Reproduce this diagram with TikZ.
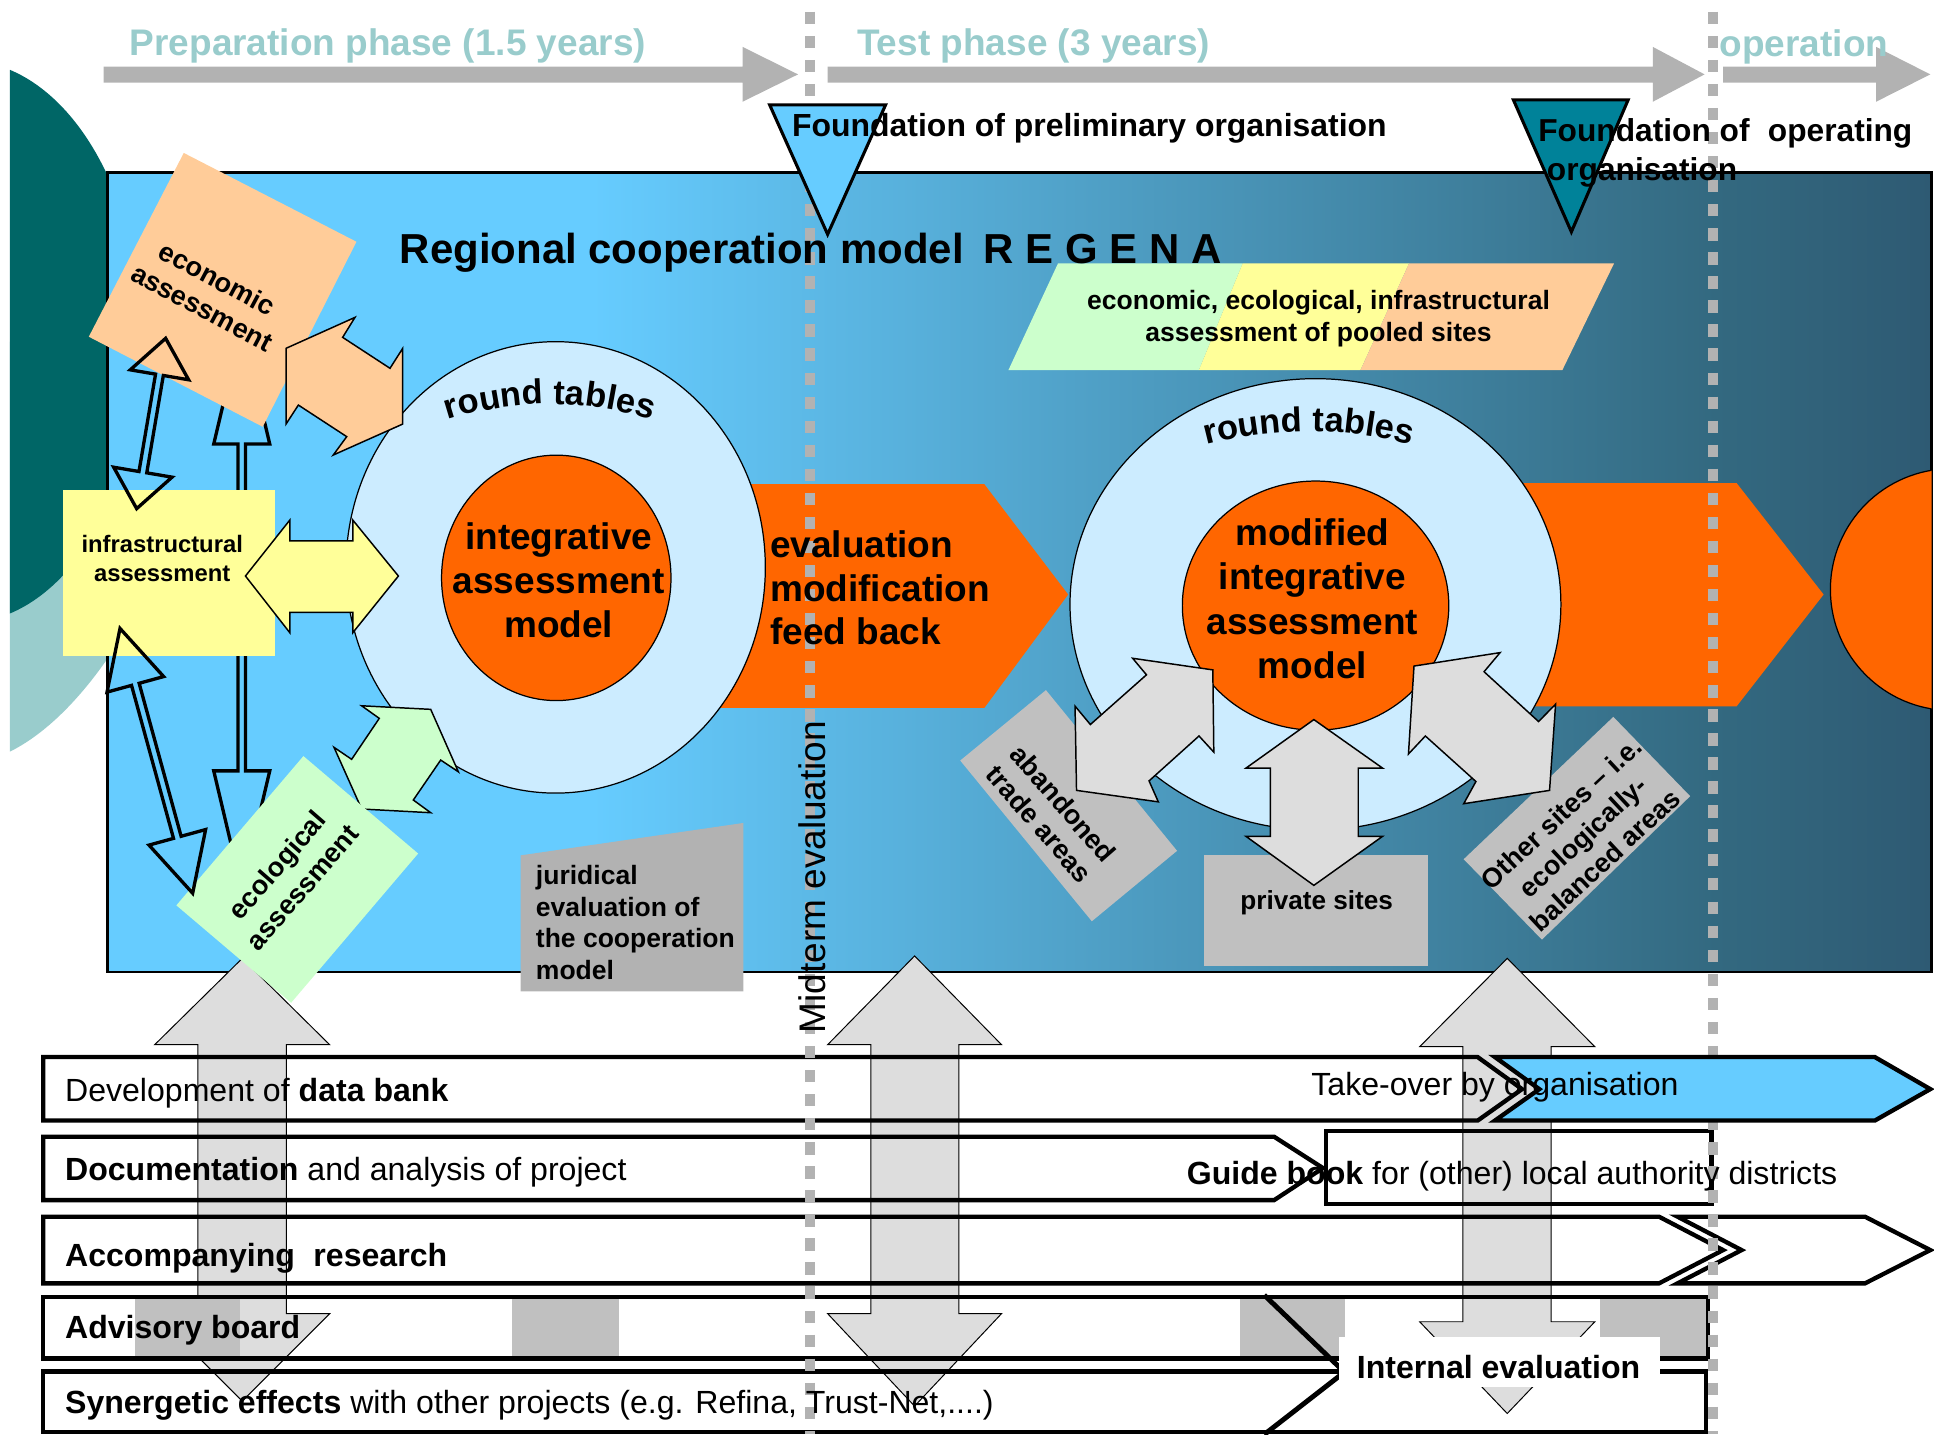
\documentclass[tikz,border=0pt]{standalone}
\usepackage{fontspec}
\setmainfont{Liberation Sans}
\usetikzlibrary{decorations.text}
\definecolor{skyb}{HTML}{66CCFF}
\definecolor{lightc}{HTML}{CCECFF}
\definecolor{orng}{HTML}{FF6600}
\definecolor{peach}{HTML}{FFCC99}
\definecolor{yel}{HTML}{FFFF99}
\definecolor{grn}{HTML}{CCFFCC}
\definecolor{gbox}{HTML}{C0C0C0}
\definecolor{gjur}{HTML}{B2B2B2}
\definecolor{garr}{HTML}{DDDDDD}
\definecolor{tealtri}{HTML}{008299}
\definecolor{dteal}{HTML}{006666}
\definecolor{lteal}{HTML}{99CCCC}
\definecolor{tarr}{HTML}{B2B2B2}
\definecolor{bmid}{HTML}{336980}
\definecolor{bdark}{HTML}{2E5A73}
\newcommand\fsz[2]{\fontsize{#1}{#2}\selectfont}
\newcommand\hollowarrow[7]{%
 \pgfmathsetmacro\HAdx{#3-#1}%
 \pgfmathsetmacro\HAdy{#4-#2}%
 \pgfmathsetmacro\HAang{atan2(-\HAdy,\HAdx)}%
 \pgfmathsetmacro\HAlen{veclen(\HAdx,\HAdy)}%
 \pgfmathsetmacro\HAb{\HAlen-#5}%
 \begin{scope}[shift={(#1,#2)},rotate=\HAang]
 \draw[hollowarr] (0,0) -- (#5,#6) -- (#5,#7) -- (\HAb,#7) -- (\HAb,#6) -- (\HAlen,0) -- (\HAb,-#6) -- (\HAb,-#7) -- (#5,-#7) -- (#5,-#6) -- cycle;
 \end{scope}}
\tikzset{
 bar/.style={draw=black, line width=3.5pt},
 garrow/.style={fill=garr, draw=black, line width=0.8pt},
 blockarr/.style={draw=black, line width=1.2pt},
 hollowarr/.style={draw=black, line width=2.7pt},
 dotline/.style={draw=tarr, line width=8pt, dash pattern=on 10pt off 9.5pt},
 lbl/.style={inner sep=0pt, anchor=base},
 lblw/.style={inner sep=0pt, anchor=base west},
 rotlbl/.style={inner sep=0pt, align=center},
 tri/.style={draw=black, line width=2.5pt},
}
\begin{document}
\begin{tikzpicture}[x=1pt,y=-1pt,line join=miter]
\useasboundingbox (0,0) rectangle (1568,1163);
% teal background shapes
\begin{scope}
\clip (8,0) rectangle (87,1163);
\fill[lteal] (8,277) -- (8,609.4) .. controls (35,596) and (62,570) .. (86.5,534.9) -- (100,534.9) -- (100,277) -- cycle;
\fill[dteal] (-29,277) ellipse [x radius=144, y radius=228];
\end{scope}
% phase arrows
\fill[tarr] (84,54) -- (602,54) -- (602,38) -- (647,60.3) -- (602,82.5) -- (602,67) -- (84,67) -- cycle;
\fill[tarr] (671,54) -- (1340,54) -- (1340,38) -- (1382,60.3) -- (1340,82.5) -- (1340,67) -- (671,67) -- cycle;
\fill[tarr] (1397,54) -- (1521,54) -- (1521,38) -- (1565,60.3) -- (1521,82.5) -- (1521,67) -- (1397,67) -- cycle;
% main blue panel
\fill[skyb] (87,140) rectangle (481,788);
\shade[left color=skyb, right color=bmid] (480,140) rectangle (1391,788);
\shade[left color=bmid, right color=bdark] (1390,140) rectangle (1566,788);
\draw[line width=2pt] (87,140) rectangle (1566,788);
% orange arrows and circle
\fill[orng] (560,392.5) -- (798,392.5) -- (866,482) -- (798,574) -- (560,574) -- cycle;
\fill[orng] (1180,391.7) -- (1408,391.7) -- (1478.5,482) -- (1408,572.6) -- (1180,572.6) -- cycle;
\begin{scope}
\clip (87,140) rectangle (1566,788);
\draw[fill=orng, line width=1pt] (1582,478) ellipse [x radius=98, y radius=98];
\end{scope}
% round tables circles
\draw[fill=lightc, line width=1pt] (450.5,460) ellipse [x radius=170, y radius=183];
\draw[fill=orng, line width=1pt] (451,468.5) ellipse [x radius=93, y radius=99.5];
\draw[fill=lightc, line width=1pt] (1066.5,490) ellipse [x radius=199, y radius=183];
\draw[fill=orng, line width=1pt] (1066.6,491) ellipse [x radius=108, y radius=101];
% left assessment boxes and hollow arrows
\hollowarrow{196}{264}{196}{721}{96}{22.7}{3.1}
\fill[yel] (51,397) rectangle (223,532);
\fill[peach] (149,124) -- (289,196) -- (213,346) -- (72,273) -- cycle;
\hollowarrow{134.3}{274.3}{110.8}{412.4}{30}{24}{3.2}
% block double arrows to round table 1
\draw[blockarr, fill=peach] (231.9,282.4) -- (287.8,257.3) -- (277.8,273.5) -- (316.2,298.6) -- (326.5,282.4) -- (326.5,343.8) -- (270.2,368.9) -- (281.1,354) -- (241.9,328.4) -- (231.9,343.8) -- cycle;
\draw[blockarr, fill=yel] (199,467) -- (235,421.6) -- (235,438.5) -- (286,438.5) -- (286,421.6) -- (323,467) -- (286,513) -- (286,496.5) -- (235,496.5) -- (235,513) -- cycle;
\draw[blockarr, fill=grn] (293.2,572.2) -- (349.2,575.1) -- (371.6,625.7) -- (357.3,616.2) -- (335.1,648.6) -- (349.2,658.9) -- (293.2,655.9) -- (270.8,605.9) -- (285.1,615.6) -- (307.5,582.4) -- cycle;
% pooled sites parallelogram
\fill[grn] (857.8,213.5) -- (1007.5,213.5) -- (972,300) -- (817.6,300) -- cycle;
\fill[yel] (1007.5,213.5) -- (1142.4,213.5) -- (1103,300) -- (972,300) -- cycle;
\fill[peach] (1142.4,213.5) -- (1308.6,213.5) -- (1266.7,300) -- (1103,300) -- cycle;
% gray boxes
\fill[gjur] (422,693.5) -- (602.7,667.2) -- (602.7,803.7) -- (422,803.7) -- cycle;
\fill[gbox] (848,559.5) -- (954.3,689.8) -- (885.2,746.9) -- (778.5,616.6) -- cycle;
\fill[gbox] (976,693.5) rectangle (1158,783.5);
\fill[gbox] (1308,581.2) -- (1370.3,645.5) -- (1250.1,761.8) -- (1186.7,696.6) -- cycle;
% gray block arrows round table 2
\draw[blockarr, fill=garr] (918.3,533.7) -- (983.3,543.1) -- (984.1,609.8) -- (972.1,596.7) -- (931.6,633.1) -- (939.1,650.1) -- (872.8,640.8) -- (871.6,572.5) -- (884,587.4) -- (929.5,547.1) -- cycle;
\draw[blockarr, fill=garr] (1146.4,540) -- (1216.2,529.1) -- (1203.2,544.6) -- (1247.4,585) -- (1261.2,570.9) -- (1256.3,640.8) -- (1186.7,651.6) -- (1196.6,633.6) -- (1155.6,596.7) -- (1141.9,611.3) -- cycle;
\draw[blockarr, fill=garr] (1065.2,583.4) -- (1121,622.8) -- (1101.2,622.8) -- (1101.2,678) -- (1121,678) -- (1065.2,717.8) -- (1010.1,678) -- (1030,678) -- (1030,622.8) -- (1010.1,622.8) -- cycle;
% big vertical gray arrows
\draw[garrow] (196.4,777) -- (267.3,847) -- (232.2,847) -- (232.2,1065) -- (267.3,1065) -- (196.4,1136) -- (125.4,1065) -- (160.5,1065) -- (160.5,847) -- (125.4,847) -- cycle;
\draw[garrow] (741.5,775) -- (812,847) -- (777.4,847) -- (777.4,1065) -- (812,1065) -- (741.5,1140) -- (671,1065) -- (706,1065) -- (706,847) -- (671,847) -- cycle;
\draw[garrow] (1222,777) -- (1293,848.6) -- (1257.5,848.6) -- (1257.5,1071.6) -- (1293,1071.6) -- (1222,1146) -- (1151,1071.6) -- (1186,1071.6) -- (1186,848.6) -- (1151,848.6) -- cycle;
% ecological box and last hollow arrow
\fill[grn] (246,613) -- (339,692) -- (236,813) -- (143,734) -- cycle;
\hollowarrow{97.3}{509.5}{156.2}{724.2}{47}{23.8}{3.2}
% lower bars
\fill[gbox] (109.4,1051.3) rectangle (194.6,1101.3);
\fill[gbox] (415.3,1051.3) rectangle (501.5,1101.3);
\fill[gbox] (1005,1051.3) rectangle (1090.5,1101.3);
\fill[gbox] (1297,1051.3) rectangle (1385,1101.3);
\draw[bar] (35,857) -- (1198,857) -- (1234,883) -- (1198,908.5) -- (35,908.5) -- cycle;
\draw[bar] (35,921.6) -- (1033,921.6) -- (1072.6,947) -- (1033,973) -- (35,973) -- cycle;
\draw[bar] (1075,917) rectangle (1387.6,976);
\draw[bar] (35,986.4) -- (1345,986.4) -- (1397,1013.5) -- (1345,1040.5) -- (35,1040.5) -- cycle;
\draw[bar] (1360,986.4) -- (1512,986.4) -- (1565,1013.5) -- (1512,1040.5) -- (1360,1040.5) -- (1412,1013.5) -- cycle;
\draw[bar] (35,1051.3) rectangle (1385,1101.3);
\draw[bar] (35,1112) rectangle (1383,1161);
% dotted phase borders
\draw[dotline] (657,9.5) -- (657,1163);
\draw[dotline] (1389,9.5) -- (1389,1163);
% items above the dotted lines
\draw[bar, fill=skyb] (1212,857) -- (1520,857) -- (1565,883) -- (1520,908.5) -- (1212,908.5) -- (1248,883) -- cycle;
\draw[line width=4pt] (1025,1050) -- (1090,1112.4) -- (1025,1163);
\fill[white] (1085.5,1084) rectangle (1346,1124.3);
\draw[tri, fill=skyb] (624,85) -- (718,85) -- (671,190) -- cycle;
\draw[tri, fill=tealtri] (1227,81) -- (1320,81) -- (1274,188) -- cycle;
% texts
\node[lblw, text=lteal, font=\fsz{30}{36}\bfseries] (prep) at (105,44.6) {Preparation phase (1.5 years)};
\node[lblw, text=lteal, font=\fsz{30}{36}\bfseries] (test) at (694.7,44.6) {Test phase (3 years)};
\node[lblw, text=lteal, font=\fsz{30}{36}\bfseries] (oper) at (1394,46) {operation};
\node[lblw, font=\fsz{25.9}{31}\bfseries] (found1) at (642,110.8) {Foundation of preliminary organisation};
\node[lblw, font=\fsz{25.7}{31}\bfseries] (found2a) at (1247,115) {Foundation of\hspace{0.3em} operating};
\node[lblw, font=\fsz{25.7}{31}\bfseries] (found2b) at (1254,146) {organisation};
\node[lblw, font=\fsz{34}{40}\bfseries] (title) at (324,213.5) {Regional cooperation model\hspace{0.2em} R E G E N A};
\node[lbl, font=\fsz{21.5}{26}\bfseries] (pool1) at (1069,251.3) {economic, ecological, infrastructural};
\node[lbl, font=\fsz{21.5}{26}\bfseries] (pool2) at (1069,277) {assessment of pooled sites};
\node[rotlbl, rotate=-28, font=\fsz{22}{26.4}\bfseries] (econ) at (170.1,237.5) {economic\\assessment};
\node[lbl, font=\fsz{19.3}{23}\bfseries] (infra1) at (131.5,448) {infrastructural};
\node[lbl, font=\fsz{19.3}{23}\bfseries] (infra2) at (131.5,471.3) {assessment};
\node[rotlbl, rotate=49, font=\fsz{22}{27.3}\bfseries] (ecol) at (234.8,710.2) {ecological\\assessment};
\node[lbl, font=\fsz{30}{36}\bfseries] (iam1) at (453,445.3) {integrative};
\node[lbl, font=\fsz{30}{36}\bfseries] (iam2) at (453,481) {assessment};
\node[lbl, font=\fsz{30}{36}\bfseries] (iam3) at (453,516.7) {model};
\node[lblw, font=\fsz{30}{36}\bfseries] (eval1) at (624.2,451.6) {evaluation};
\node[lblw, font=\fsz{30}{36}\bfseries] (eval2) at (624.2,488) {modification};
\node[lblw, font=\fsz{30}{36}\bfseries] (eval3) at (624.2,522.9) {feed back};
\node[lbl, font=\fsz{30}{36}\bfseries] (miam1) at (1064,442.2) {modified};
\node[lbl, font=\fsz{30}{36}\bfseries] (miam2) at (1064,477.8) {integrative};
\node[lbl, font=\fsz{30}{36}\bfseries] (miam3) at (1064,514.2) {assessment};
\node[lbl, font=\fsz{30}{36}\bfseries] (miam4) at (1064,550.2) {model};
\path[decorate, decoration={text along path, text={|\fsz{28}{28}\bfseries|round tables}, text align=center}] (337,350.3) .. controls (406.3,320) and (484.9,320) .. (554.2,350.3);
\path[decorate, decoration={text along path, text={|\fsz{28}{28}\bfseries|round tables}, text align=center}] (953,368.3) .. controls (1022.9,343.8) and (1099.1,343.8) .. (1169,368.3);
\node[lblw, font=\fsz{21.5}{26}\bfseries] (jur1) at (434.3,716.8) {juridical};
\node[lblw, font=\fsz{21.5}{26}\bfseries] (jur2) at (434.3,743.1) {evaluation of};
\node[lblw, font=\fsz{21.5}{26}\bfseries] (jur3) at (434.3,768) {the cooperation};
\node[lblw, font=\fsz{21.5}{26}\bfseries] (jur4) at (434.3,794.4) {model};
\node[rotlbl, rotate=-49, font=\fsz{22}{25.5}\bfseries] (aband) at (852.5,659.8) {abandoned\\trade areas};
\node[lbl, font=\fsz{21.2}{26}\bfseries] (priv) at (1067.5,737) {private sites};
\node[rotlbl, rotate=43, font=\fsz{21.8}{25.9}\bfseries] (oth) at (1283.3,678.3) {Other sites – i.e.\\ecologically-\\balanced areas};
\node[lblw, rotate=90, font=\fsz{30}{36}] (midterm) at (669,838) {Midterm evaluation};
\node[lblw, font=\fsz{26}{31}] (bar1t) at (52.6,893) {Development of \textbf{data bank}};
\node[lblw, font=\fsz{26}{31}] (bar2t) at (52.6,956.7) {\textbf{Documentation} and analysis of project};
\node[lblw, font=\fsz{26}{31}\bfseries] (bar3t) at (52.6,1027) {Accompanying\hspace{0.3em} research};
\node[lblw, font=\fsz{26}{31}\bfseries] (bar4t) at (52.6,1085) {Advisory board};
\node[lblw, font=\fsz{26}{31}] (bar5t) at (52.6,1145.9) {\textbf{Synergetic effects} with other projects (e.g. Refina, Trust-Net,....)};
\node[lblw, font=\fsz{26}{31}] (takeover) at (1063,888) {Take-over by organisation};
\node[lblw, font=\fsz{26}{31}] (guide) at (962,960.7) {\textbf{Guide book} for (other) local authority districts};
\node[lbl, font=\fsz{26}{31}\bfseries] (interneval) at (1215,1117.5) {Internal evaluation};
\end{tikzpicture}
\end{document}
